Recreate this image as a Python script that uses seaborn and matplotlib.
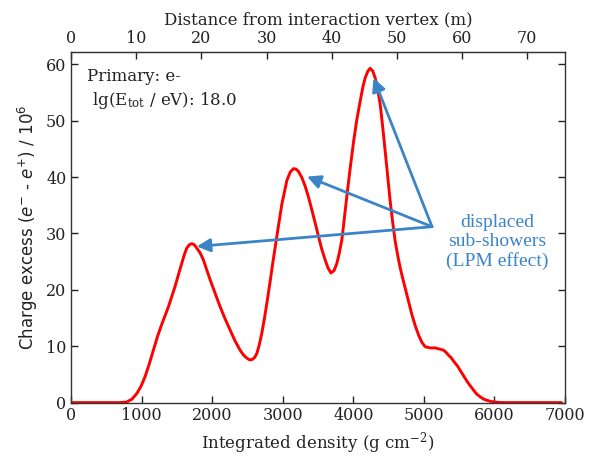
import matplotlib
matplotlib.use("Agg")
import matplotlib.pyplot as plt
import seaborn as sns
import pandas as pd

density = [0, 400, 700, 787, 860, 929, 990, 1047, 1105, 1165, 1225, 1284, 1330, 1378, 1425,
           1472, 1520, 1567, 1605, 1638, 1675, 1709, 1745, 1780, 1830, 1874, 1920, 1969, 2040,
           2111, 2180, 2252, 2320, 2394, 2445, 2489, 2525, 2560, 2600, 2631, 2665, 2702, 2740,
           2773, 2820, 2860, 2915, 2986, 3057, 3105, 3151, 3190, 3222, 3270, 3316, 3365, 3411,
           3460, 3505, 3550, 3600, 3640, 3681, 3725, 3766, 3800, 3837, 3870, 3908, 3955, 4002,
           4050, 4097, 4135, 4167, 4205, 4238, 4275, 4309, 4345, 4380, 4415, 4451, 4487, 4522,
           4557, 4593, 4630, 4664, 4700, 4735, 4783, 4830, 4878, 4924, 4970, 5018, 5090, 5160,
           5220, 5278, 5315, 5349, 5390, 5430, 5475, 5515, 5560, 5610, 5655, 5704, 5750, 5800,
           5850, 5894, 5950, 6000, 6100, 6500, 6950]
charge_excess = [0, 0, 0, 0.1, 0.6, 1.6, 2.9, 4.6, 6.8, 9.3, 11.8, 13.9, 15.4, 17.0, 18.8,
                 20.6, 22.7, 24.7, 26.3, 27.4, 28.0, 28.2, 28.0, 27.4, 26.5, 25.3, 23.6, 21.8, 19.4,
                 17.0, 14.9, 12.9, 11.0, 9.3, 8.4, 7.9, 7.6, 7.6, 8.0, 8.7, 10.2, 12.3, 15.0,
                 17.6, 21.5, 25.0, 29.5, 35.2, 39.4, 40.9, 41.5, 41.4, 41.0, 39.9, 38.4, 36.4, 34.2,
                 31.8, 29.5, 27.3, 25.3, 23.9, 23.0, 23.4, 24.7, 26.5, 28.9, 32.5, 36.7, 41.6, 46.2,
                 50.3, 53.5, 56.0, 57.6, 58.8, 59.3, 58.8, 57.6, 55.6, 52.9, 49.0, 44.6, 40.1, 35.7,
                 32.0, 28.6, 26.0, 23.9, 22.0, 20.3, 17.9, 15.6, 13.6, 12.0, 10.7, 9.9, 9.7, 9.7,
                 9.5, 9.3, 8.9, 8.4, 7.9, 7.2, 6.5, 5.7, 4.8, 3.8, 3.0, 2.2, 1.5, 1.0,
                 0.6, 0.4, 0.2, 0.1, 0, 0, 0]

bottom_ticks = [0, 1000, 2000, 3000, 4000, 5000, 6000, 7000]
left_ticks = [0, 10, 20, 30, 40, 50, 60]
top_ticks = [0, 10, 20, 30, 40, 50, 60, 70]
g_per_m = 92.3

arrow_start = (5115, 31.2)
arrow_heads = [(1780, 27.7), (3343, 40.1), (4286, 57.6)]

sns.set_style("ticks")
plt.rcParams['font.family'] = ['DejaVu Serif']
plt.rcParams['mathtext.fontset'] = 'dejavuserif'

fig = plt.figure(figsize=(5.91, 4.58), dpi=100)
ax = fig.add_axes([0.1205, 0.121, 0.8355, 0.7655])

df = pd.DataFrame({"density": density, "excess": charge_excess})
sns.lineplot(data=df, x="density", y="excess", color="red", lw=2.1, ax=ax)
for ln in ax.get_lines():
    ln.set_solid_joinstyle("round")
    ln.set_solid_capstyle("round")

ax.set_xlim(0, 7000)
ax.set_ylim(0, 62.2)
ax.set_xticks(bottom_ticks)
ax.set_yticks(left_ticks)
ax.tick_params(direction="in", length=5, width=1, labelsize=11.5, top=False, right=True,
               colors="#222222", labelcolor="#222222")
for s in ax.spines.values():
    s.set_color("#333333")
    s.set_linewidth(1.0)

ax.set_xlabel(r"Integrated density (g cm$^{-2}$)", fontsize=12, color="#222222")
ax.set_ylabel(r"Charge excess ($e^{-}$ - $e^{+}$) / $10^6$", fontsize=12, color="#222222",
              family="DejaVu Sans", math_fontfamily="dejavusans")

sec = ax.secondary_xaxis("top", functions=(lambda x: x / g_per_m, lambda m: m * g_per_m))
sec.set_xticks(top_ticks)
sec.tick_params(direction="in", length=5, width=1, labelsize=11.5, colors="#222222",
                labelcolor="#222222")
sec.set_xlabel("Distance from interaction vertex (m)", fontsize=12, color="#222222")

ax.text(0.032, 0.955, "Primary: e-\n lg(E$_{\\rm tot}$ / eV): 18.0", transform=ax.transAxes,
        ha="left", va="top", fontsize=12, color="#222222", linespacing=1.35)

blue = "#3b84c6"
for hx, hy in arrow_heads:
    ax.annotate("", xy=(hx, hy), xytext=arrow_start,
                arrowprops=dict(arrowstyle="-|>", color=blue, lw=2, mutation_scale=20,
                                shrinkA=0, shrinkB=0))
ax.text(6040, 28.5, "displaced\nsub-showers\n(LPM effect)", ha="center", va="center",
        fontsize=14, color=blue, family="Liberation Serif", linespacing=1.15)

fig.savefig("out.png", dpi=100)
